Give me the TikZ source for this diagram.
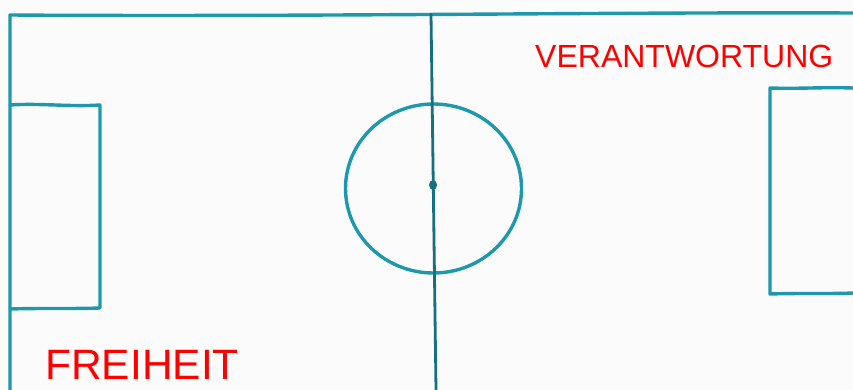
\documentclass[tikz,border=0pt]{standalone}
\usepackage{fontspec}
\setmainfont{Liberation Sans}
\begin{document}
\begin{tikzpicture}[x=1pt,y=-1pt,
  chalk/.style={draw=pitchteal,line width=3.4pt,line cap=round,line join=round},
  midline/.style={draw=pitchdark,line width=2.8pt,line cap=round},
  label/.style={text=red,inner sep=0pt,anchor=base west}]
\definecolor{pitchteal}{HTML}{1E98AD}
\definecolor{pitchdark}{HTML}{17707F}
\definecolor{paper}{HTML}{FBFBFB}
\useasboundingbox (0,0) rectangle (853,390);
\fill[paper] (0,0) rectangle (853,390);
% outer lines
\draw[chalk] (10,390) -- (10,15) .. controls (300,17) and (600,12) .. (853,13);
% left penalty box
\draw[chalk] (10,105) .. controls (40,103) and (70,107) .. (100,105) -- (100,308) .. controls (70,309) and (40,308) .. (10,309);
% right penalty box
\draw[chalk] (853,88) .. controls (820,87) and (800,89) .. (770,88) -- (770,294) .. controls (800,293) and (830,294) .. (853,293);
% centre circle
\draw[chalk] (433.5,188.5) ellipse [x radius=88, y radius=84.5];
% halfway line
\draw[midline] (431,14) -- (436,390);
\fill[pitchdark] (433,185) ellipse [x radius=4, y radius=5];
% labels
\node[label,font=\fontsize{32}{32}\selectfont] (resp) at (535,68) {VERANTWORTUNG};
\node[label,font=\fontsize{42.5}{42.5}\selectfont] (free) at (45,379) {FREIHEIT};
\end{tikzpicture}
\end{document}
